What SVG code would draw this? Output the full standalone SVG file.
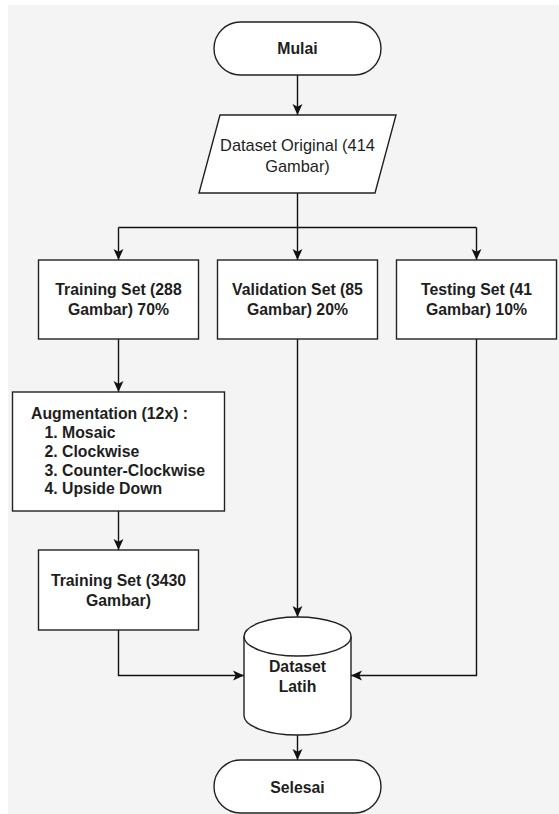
<svg xmlns="http://www.w3.org/2000/svg" width="559" height="814" viewBox="0 0 559 814">
<defs>
<marker id="arr" markerUnits="userSpaceOnUse" markerWidth="11" markerHeight="11" viewBox="0 0 10 10" refX="10" refY="5" orient="auto">
<path d="M0,0.5 L10,5 L0,9.5 L2.5,5 z" fill="#111"/>
</marker>
<style>
.shape{fill:#ffffff;stroke:#222;stroke-width:1.4}
.conn{fill:none;stroke:#111;stroke-width:1.4}
.t{font-family:"Liberation Sans",Arial,sans-serif;font-size:15.8px;font-weight:bold;fill:#1e1e1e}
.c{text-anchor:middle}
</style>
</defs>
<rect x="0" y="0" width="559" height="814" fill="#ffffff"/>
<rect x="8" y="5" width="551" height="809" fill="#f4f4f4"/>
<g id="connectors">
<path class="conn" d="M297.5,75 L297.5,115" marker-end="url(#arr)"/>
<path class="conn" d="M297.5,193 L297.5,227.5"/>
<path class="conn" d="M118.5,227.5 L476.5,227.5"/>
<path class="conn" d="M118.5,227.5 L118.5,260" marker-end="url(#arr)"/>
<path class="conn" d="M297.5,227.5 L297.5,260" marker-end="url(#arr)"/>
<path class="conn" d="M476.5,227.5 L476.5,260" marker-end="url(#arr)"/>
<path class="conn" d="M118.5,339 L118.5,392" marker-end="url(#arr)"/>
<path class="conn" d="M118.5,511 L118.5,550" marker-end="url(#arr)"/>
<path class="conn" d="M297.5,339 L297.5,617" marker-end="url(#arr)"/>
<path class="conn" d="M118.5,630 L118.5,675.5 L244,675.5" marker-end="url(#arr)"/>
<path class="conn" d="M476.5,339 L476.5,675.5 L351,675.5" marker-end="url(#arr)"/>
<path class="conn" d="M297.5,735 L297.5,760" marker-end="url(#arr)"/>
</g>
<g id="mulai">
<rect class="shape" x="214" y="22" width="167" height="53" rx="26.5" ry="26.5"/>
<text class="t c" x="297.5" y="54">Mulai</text>
</g>
<g id="dataset-original">
<polygon class="shape" points="220,115 396,115 375,193 199,193"/>
<text class="t c" x="297.5" y="151" style="font-weight:normal;font-size:16.4px">Dataset Original (414</text>
<text class="t c" x="297.5" y="171.5" style="font-weight:normal;font-size:16.4px">Gambar)</text>
</g>
<g id="training-set">
<rect class="shape" x="38.5" y="260" width="160" height="79"/>
<text class="t c" x="118.5" y="294.5">Training Set (288</text>
<text class="t c" x="118.5" y="314.5">Gambar) 70%</text>
</g>
<g id="validation-set">
<rect class="shape" x="217.5" y="260" width="160" height="79"/>
<text class="t c" x="297.5" y="294.5">Validation Set (85</text>
<text class="t c" x="297.5" y="314.5">Gambar) 20%</text>
</g>
<g id="testing-set">
<rect class="shape" x="396.5" y="260" width="160" height="79"/>
<text class="t c" x="476.5" y="294.5">Testing Set (41</text>
<text class="t c" x="476.5" y="314.5">Gambar) 10%</text>
</g>
<g id="augmentation">
<rect class="shape" x="12.5" y="392" width="212" height="119"/>
<text class="t" x="31" y="418.5">Augmentation (12x) :</text>
<text class="t" x="44.5" y="437.5">1. Mosaic</text>
<text class="t" x="44.5" y="456.5">2. Clockwise</text>
<text class="t" x="44.5" y="475.5">3. Counter-Clockwise</text>
<text class="t" x="44.5" y="494">4. Upside Down</text>
</g>
<g id="training-set-aug">
<rect class="shape" x="38.5" y="550" width="160" height="80"/>
<text class="t c" x="118.5" y="585.5">Training Set (3430</text>
<text class="t c" x="118.5" y="605.5">Gambar)</text>
</g>
<g id="dataset-latih">
<path class="shape" d="M244,636.5 A53.5,19.5 0 0 1 351,636.5 L351,715.5 A53.5,19.5 0 0 1 244,715.5 Z"/>
<path class="shape" d="M244,636.5 A53.5,19.5 0 0 0 351,636.5" style="fill:none"/>
<text class="t c" x="297.5" y="671.5">Dataset</text>
<text class="t c" x="297.5" y="691.5">Latih</text>
</g>
<g id="selesai">
<rect class="shape" x="214" y="760" width="167" height="53" rx="26.5" ry="26.5"/>
<text class="t c" x="297.5" y="792.5">Selesai</text>
</g>
</svg>
